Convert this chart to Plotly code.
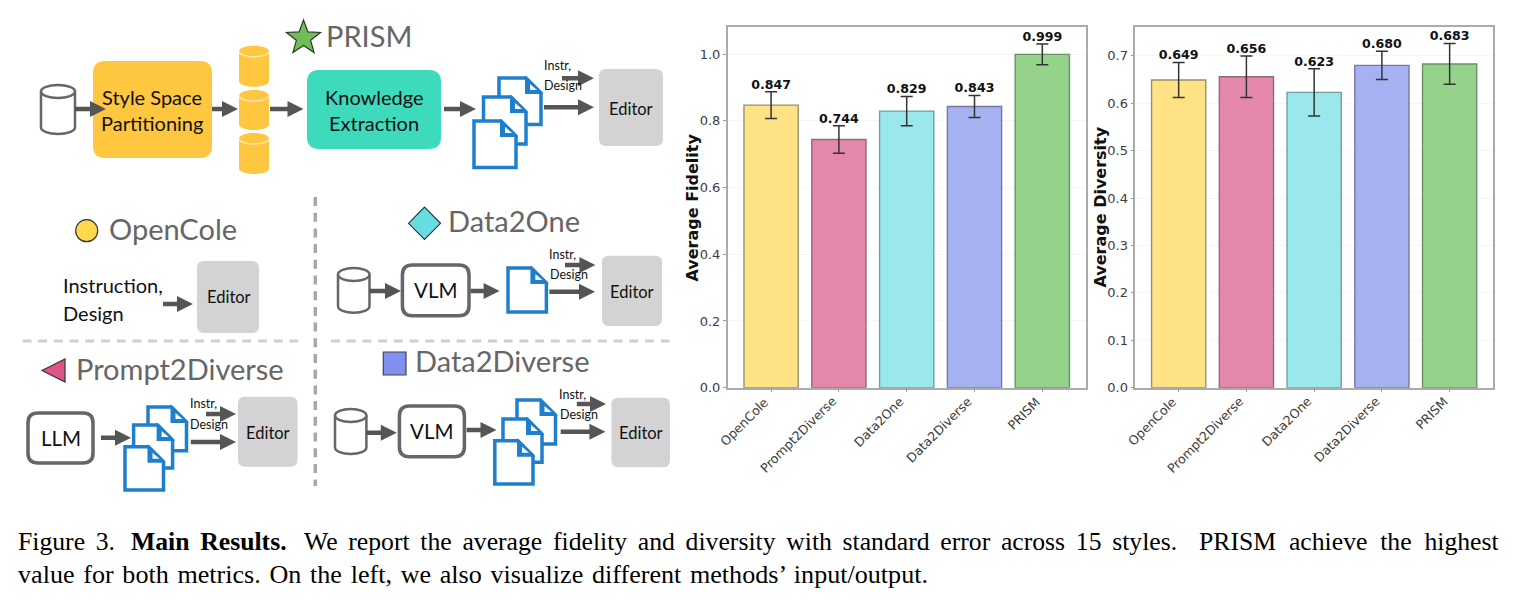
import math

import plotly.graph_objects as go
from plotly.subplots import make_subplots

W, H = 1516, 604

# Results per method
methods = ["OpenCole", "Prompt2Diverse", "Data2One", "Data2Diverse", "PRISM"]
fidelity = [0.847, 0.744, 0.829, 0.843, 0.999]
fidelity_err = [0.040, 0.041, 0.044, 0.033, 0.031]
diversity = [0.649, 0.656, 0.623, 0.680, 0.683]
diversity_err = [0.037, 0.044, 0.050, 0.030, 0.043]
fidelity_ticks = [0.0, 0.2, 0.4, 0.6, 0.8, 1.0]
diversity_ticks = [0.0, 0.1, 0.2, 0.3, 0.4, 0.5, 0.6, 0.7]
bar_fills = ["#FFE285", "#E387AB", "#9BE8EC", "#A6B1F1", "#95D38B"]
bar_edges = ["#96906A", "#8F6A7C", "#6F9EA3", "#73799F", "#68916A"]

CHART_FONT = "DejaVu Sans"
DIAGRAM_FONT = "Lato"
CAPTION_FONT = "Liberation Serif"
GREY_TEXT = "#666666"
ARROW = "#555555"
BLUE = "#1F7FCC"
ORANGE = "#FFC740"
TEAL = "#3DDBBB"
EDITOR = "#D3D3D3"
OUTLINE = "#666666"

shapes = []
notes = []


def px(x):
    return x / W


def py(y):
    return 1 - y / H


def path_str(cmds):
    parts = []
    for c in cmds:
        if isinstance(c, str):
            parts.append(c)
        else:
            parts.append(f"{px(c[0]):.5f},{py(c[1]):.5f}")
    return " ".join(parts)


def add_path(cmds, fill=None, line=None, width=0):
    shapes.append(dict(
        type="path", xref="paper", yref="paper", path=path_str(cmds),
        fillcolor=fill if fill else "rgba(0,0,0,0)",
        line=dict(color=line if line else "rgba(0,0,0,0)", width=width),
    ))


def label(x, y, text, size, color="#111111", anchor="center", font=DIAGRAM_FONT, angle=0):
    notes.append(dict(
        xref="paper", yref="paper", x=px(x), y=py(y), text=text, showarrow=False,
        xanchor=anchor, yanchor="middle", borderpad=0, textangle=angle,
        font=dict(family=font, size=size, color=color),
    ))


def round_rect(x0, y0, x1, y1, r, fill, line=None, width=0):
    add_path([
        "M", (x0 + r, y0), "L", (x1 - r, y0), "Q", (x1, y0), (x1, y0 + r),
        "L", (x1, y1 - r), "Q", (x1, y1), (x1 - r, y1),
        "L", (x0 + r, y1), "Q", (x0, y1), (x0, y1 - r),
        "L", (x0, y0 + r), "Q", (x0, y0), (x0 + r, y0), "Z",
    ], fill, line, width)


def arrow(x0, x1, y, half=8, head=16, thick=2.2):
    add_path([
        "M", (x0, y - thick), "L", (x1 - head, y - thick), "L", (x1 - head, y - half),
        "L", (x1, y), "L", (x1 - head, y + half), "L", (x1 - head, y + thick),
        "L", (x0, y + thick), "Z",
    ], ARROW)


def cylinder(x0, y0, x1, y1, fill=None, line=OUTLINE, width=2.5, rim=None):
    k = 0.5523
    cx = (x0 + x1) / 2
    rx = (x1 - x0) / 2
    ry = 5.5 if fill else 6.5
    top, bot = y0 + ry, y1 - ry
    lower_arc = ["C", (x0, top + k * ry), (cx - k * rx, top + ry), (cx, top + ry),
                 "C", (cx + k * rx, top + ry), (x1, top + k * ry), (x1, top)]
    upper_arc = ["C", (x1, top - k * ry), (cx + k * rx, y0), (cx, y0),
                 "C", (cx - k * rx, y0), (x0, top - k * ry), (x0, top)]
    body = ["M", (x0, top), "L", (x0, bot),
            "C", (x0, bot + k * ry), (cx - k * rx, y1), (cx, y1),
            "C", (cx + k * rx, y1), (x1, bot + k * ry), (x1, bot),
            "L", (x1, top)] + upper_arc + ["Z"]
    add_path(body, fill, line if not fill else None, width if not fill else 0)
    if rim:
        add_path(["M", (x0, top)] + lower_arc, None, rim, 1.5)
    elif not fill:
        add_path(["M", (x0, top)] + lower_arc, None, line, width)


def doc(x0, y0, x1, y1, fold=15):
    add_path(["M", (x0, y0), "L", (x1 - fold, y0), "L", (x1, y0 + fold),
              "L", (x1, y1), "L", (x0, y1), "Z"], "#FFFFFF", BLUE, 3.5)
    add_path(["M", (x1 - fold, y0), "L", (x1 - fold, y0 + fold),
              "L", (x1, y0 + fold), "Z"], BLUE, BLUE, 2)
    add_path(["M", (x1 - fold + 4, y0 + 6), "L", (x1 - fold + 4, y0 + fold - 3),
              "L", (x1 - 4, y0 + fold - 3), "Z"], "#FFFFFF")


def doc_stack(boxes):
    for b in boxes:
        doc(*b)


def editor(x0, y0, x1, y1, tx, ty):
    round_rect(x0, y0, x1, y1, 7, EDITOR)
    label(tx, ty, "Editor", 16.5)


def instr_design(ix, iy, dx, dy):
    label(ix, iy, "Instr,", 12.5)
    label(dx, dy, "Design", 12.5)


def model_box(x0, y0, x1, y1, text):
    round_rect(x0, y0, x1, y1, 10, "#FFFFFF", OUTLINE, 3.5)
    label((x0 + x1) / 2, (y0 + y1) / 2, text, 20.5)


def dashed(x0, y0, x1, y1, color, width):
    shapes.append(dict(
        type="line", xref="paper", yref="paper", x0=px(x0), y0=py(y0), x1=px(x1), y1=py(y1),
        line=dict(color=color, width=width, dash="9px,6.7px"),
    ))


def star(cx, cy, r_out, r_in, fill, line):
    pts = []
    for i in range(10):
        a = -math.pi / 2 + i * math.pi / 5
        r = r_out if i % 2 == 0 else r_in
        pts.append((cx + r * math.cos(a), cy + r * math.sin(a)))
    cmds = ["M", pts[0]]
    for p in pts[1:]:
        cmds += ["L", p]
    add_path(cmds + ["Z"], fill, line, 1.2)


# Top row: the PRISM pipeline
star(303.5, 38, 18, 7.5, "#6CBF57", "#333333")
label(325, 36, "PRISM", 29, GREY_TEXT, "left")
cylinder(41, 85, 75, 134)
round_rect(93, 61, 212, 158, 12, ORANGE)
arrow(75, 106, 109)
label(152, 97, "Style Space", 20)
label(152, 123, "Partitioning", 20)
arrow(212, 238, 109)
cylinder(239, 45.7, 269, 86.7, ORANGE, rim="#FFE9B0")
cylinder(239, 90, 269, 130, ORANGE, rim="#FFE9B0")
cylinder(239, 133, 269, 174, ORANGE, rim="#FFE9B0")
arrow(270, 303.5, 109)
round_rect(307, 70, 441, 149, 12, TEAL)
label(374, 97, "Knowledge", 20)
label(374, 123, "Extraction", 20)
arrow(444, 476, 109)
doc_stack([(499, 78, 541, 124.5), (483.5, 97, 526, 144), (474, 121, 516, 167.5)])
arrow(562, 594, 78.3)
arrow(544, 594, 107.3)
instr_design(557, 65.7, 563, 86)
editor(599, 69, 663, 146, 631, 109)

# Dividers between the baseline panels
dashed(315.3, 197, 315.3, 486, "#A8A8A8", 3.5)
dashed(22.5, 341, 298, 341, "#CFCFCF", 3)
dashed(331, 341, 670, 341, "#CFCFCF", 3)

# OpenCole panel
shapes.append(dict(type="circle", xref="paper", yref="paper",
                   x0=px(75.7), x1=px(97.7), y0=py(219.7), y1=py(241.7),
                   fillcolor="#FFD84D", line=dict(color="#333333", width=1.2)))
label(108, 228.5, "OpenCole", 29, GREY_TEXT, "left")
label(62, 285, "Instruction,", 20, anchor="left")
label(62, 313, "Design", 20, anchor="left")
arrow(163, 193, 304)
editor(197, 261, 259, 333, 228.5, 297.3)

# Data2One panel
add_path(["M", (408.5, 223.3), "L", (424.5, 207), "L", (440.5, 223.3), "L", (424.5, 239.5), "Z"],
         "#66DDE0", "#333333", 1.2)
label(446.7, 220.5, "Data2One", 29, GREY_TEXT, "left")
cylinder(338, 268, 369.5, 312.7)
arrow(369.5, 401, 291)
model_box(402.4, 265, 469, 315.7, "VLM")
arrow(470.5, 499.6, 291)
doc(508, 268, 546.4, 312)
arrow(565, 595.4, 265)
arrow(549.4, 595, 291.7)
instr_design(562.4, 254, 569, 274.7)
editor(602, 255.7, 662, 326, 632, 291.7)

# Prompt2Diverse panel
add_path(["M", (42, 370.5), "L", (65, 359), "L", (65, 382), "Z"], "#DD5588", "#333333", 1.2)
label(74.6, 368, "Prompt2Diverse", 29, GREY_TEXT, "left")
model_box(28, 413, 93, 463, "LLM")
arrow(101, 131, 437.7)
doc_stack([(148, 407, 186.5, 450.7), (133.6, 425, 172.6, 468), (125, 446.7, 163.5, 490)])
arrow(206, 236, 414)
arrow(190.8, 236, 442)
instr_design(203, 403, 209, 424)
editor(238, 396.7, 297.5, 466.7, 268, 433.3)

# Data2Diverse panel
shapes.append(dict(type="rect", xref="paper", yref="paper",
                   x0=px(383.3), x1=px(406), y0=py(352), y1=py(375),
                   fillcolor="#8090EE", line=dict(color="#444444", width=1.2)))
label(414, 360.7, "Data2Diverse", 29, GREY_TEXT, "left")
cylinder(335, 409, 366.4, 454)
arrow(366.4, 396.8, 432.7)
model_box(399.4, 406, 464.4, 456.7, "VLM")
arrow(466.6, 496.5, 430)
doc_stack([(517, 400, 555.5, 444), (503, 419, 542, 462.3), (494.8, 440.7, 533, 484)])
arrow(576.8, 606, 404)
arrow(560.7, 605.4, 431.7)
instr_design(572.4, 394, 579, 414.3)
editor(611.4, 397.7, 670, 467.3, 640.5, 433.3)


# Caption below the figure; extra narrow spaces stand in for justified word gaps
def spaced(text, gap):
    return text.replace(" ", " " + gap)


CAPTION_SIZE = 25.7
SIX_PER_EM = "\u2006"
FOUR_PER_EM = "\u2005"
HAIR = "\u200a"
label(17, 541, spaced("Figure 3.", SIX_PER_EM), CAPTION_SIZE, "#000000", "left", CAPTION_FONT)
label(130, 541, "<b>" + spaced("Main Results.", SIX_PER_EM) + "</b>", CAPTION_SIZE, "#000000", "left", CAPTION_FONT)
label(303, 541,
      spaced("We report the average fidelity and diversity with standard error across 15 styles.", SIX_PER_EM),
      CAPTION_SIZE, "#000000", "left", CAPTION_FONT)
label(1198, 541, spaced("PRISM achieve the highest", FOUR_PER_EM), CAPTION_SIZE, "#000000", "left", CAPTION_FONT)
label(17, 574,
      spaced("value for both metrics. On the left, we also visualize different methods\u2019 input/output.", HAIR),
      26.1, "#000000", "left", CAPTION_FONT)

# Bar panels
fig = make_subplots(rows=1, cols=2)


def bar_panel(col, values, errors):
    fig.add_trace(go.Bar(
        x=methods, y=values, width=0.8,
        marker=dict(color=bar_fills, line=dict(color=bar_edges, width=1.4)),
        error_y=dict(type="data", array=errors, color="#333333", thickness=1.5, width=6),
        hoverinfo="skip", showlegend=False,
    ), row=1, col=col)
    fig.add_trace(go.Scatter(
        x=methods, y=[v + e for v, e in zip(values, errors)],
        mode="text", text=[f"<b>{v:.3f}</b>" for v in values], textposition="top center",
        textfont=dict(family=CHART_FONT, size=12.6, color="#111111"),
        cliponaxis=False, hoverinfo="skip", showlegend=False,
    ), row=1, col=col)


bar_panel(1, fidelity, fidelity_err)
bar_panel(2, diversity, diversity_err)

# Slanted method names, right-aligned under each tick
for axis in ("x", "x2"):
    for name in methods:
        notes.append(dict(
            xref=axis, yref="paper", x=name, y=py(392.5), text=name, showarrow=False,
            xanchor="right", yanchor="top", textangle=-45, xshift=2, borderpad=0,
            font=dict(family=CHART_FONT, size=12.6, color="#3D3D3D"),
        ))

# Axis titles
label(692, 207.5, "<b>Average Fidelity</b>", 16, "#111111", font=CHART_FONT, angle=-90)
label(1100, 207.5, "<b>Average Diversity</b>", 16, "#111111", font=CHART_FONT, angle=-90)

axis_style = dict(
    showline=True, mirror=True, linecolor="#ABABAB", linewidth=1.5,
    ticks="outside", tickcolor="#999999", ticklen=3, tickwidth=1,
    tickfont=dict(family=CHART_FONT, size=13, color="#3D3D3D"),
)
x_style = dict(axis_style, showticklabels=False, range=[-0.64, 4.64], showgrid=False)
y_style = dict(axis_style, showgrid=True, gridcolor="#F6F6F6", gridwidth=1, zeroline=False)

fig.update_layout(
    width=W, height=H, autosize=False,
    margin=dict(l=0, r=0, t=0, b=0, pad=0, autoexpand=False),
    paper_bgcolor="white", plot_bgcolor="white",
    shapes=shapes, annotations=notes, bargap=0.2,
    xaxis=dict(x_style, domain=[px(727.7), px(1085.7)]),
    xaxis2=dict(x_style, domain=[px(1135.3), px(1493)]),
    yaxis=dict(y_style, domain=[py(387.7), py(26.7)], range=[0, 1.082], tickvals=fidelity_ticks,
               ticktext=[f"{t:.1f}" for t in fidelity_ticks]),
    yaxis2=dict(y_style, domain=[py(387.7), py(26.7)], range=[0, 0.7616], tickvals=diversity_ticks,
                ticktext=[f"{t:.1f}" for t in diversity_ticks]),
)

fig.write_html("out.html")
